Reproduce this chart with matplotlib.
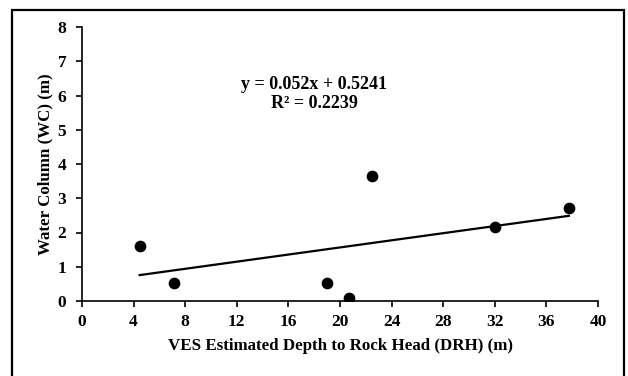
import matplotlib
matplotlib.use("Agg")
import matplotlib.pyplot as plt
from matplotlib.patches import Rectangle
import numpy as np

# Data
drh = [4.47, 7.16, 19.0, 20.7, 22.45, 32.03, 37.74]
wc = [1.61, 0.52, 0.52, 0.08, 3.65, 2.17, 2.72]
slope, intercept = 0.052, 0.5241
eq_text = "y = 0.052x + 0.5241\nR² = 0.2239"
xticks = [0, 4, 8, 12, 16, 20, 24, 28, 32, 36, 40]
yticks = [0, 1, 2, 3, 4, 5, 6, 7, 8]

plt.rcParams['font.family'] = ['Liberation Serif', 'DejaVu Serif']
plt.rcParams['font.weight'] = 'bold'

fig = plt.figure(figsize=(6.28, 3.76), dpi=100)
ax = fig.add_axes([82/628, 75/376, 516/628, 274/376])

ax.scatter(drh, wc, s=55, color='black', zorder=3)
xl = np.array([min(drh), max(drh)])
ax.plot(xl, slope * xl + intercept, color='black', lw=1.6)

ax.set_xlim(0, 40)
ax.set_ylim(0, 8)
ax.set_xticks(xticks)
ax.set_yticks(yticks)
for s in ['top', 'right']:
    ax.spines[s].set_visible(False)
for s in ['left', 'bottom']:
    ax.spines[s].set_linewidth(1.2)
ax.tick_params(direction='out', length=4.3, width=1.2, labelsize=12.5)
ax.tick_params(axis='x', pad=5)
ax.tick_params(axis='y', pad=7)
for lab in ax.get_xticklabels() + ax.get_yticklabels():
    lab.set_fontweight('bold')

ax.set_xlabel("VES Estimated Depth to Rock Head (DRH) (m)", fontsize=12.2, fontweight='bold', labelpad=6)
ax.set_ylabel("Water Column (WC) (m)", fontsize=12.2, fontweight='bold', labelpad=3)

ax.text(314/628, 1 - 94/376, eq_text, transform=fig.transFigure, ha='center', va='center',
        fontsize=13, fontweight='bold', linespacing=1.2)

fig.patches.append(Rectangle((12/628, -0.02), 612/628, 1 - 10/376 + 0.02, transform=fig.transFigure,
                             fill=False, edgecolor='black', lw=1.6))

fig.savefig("out.png", dpi=100)
